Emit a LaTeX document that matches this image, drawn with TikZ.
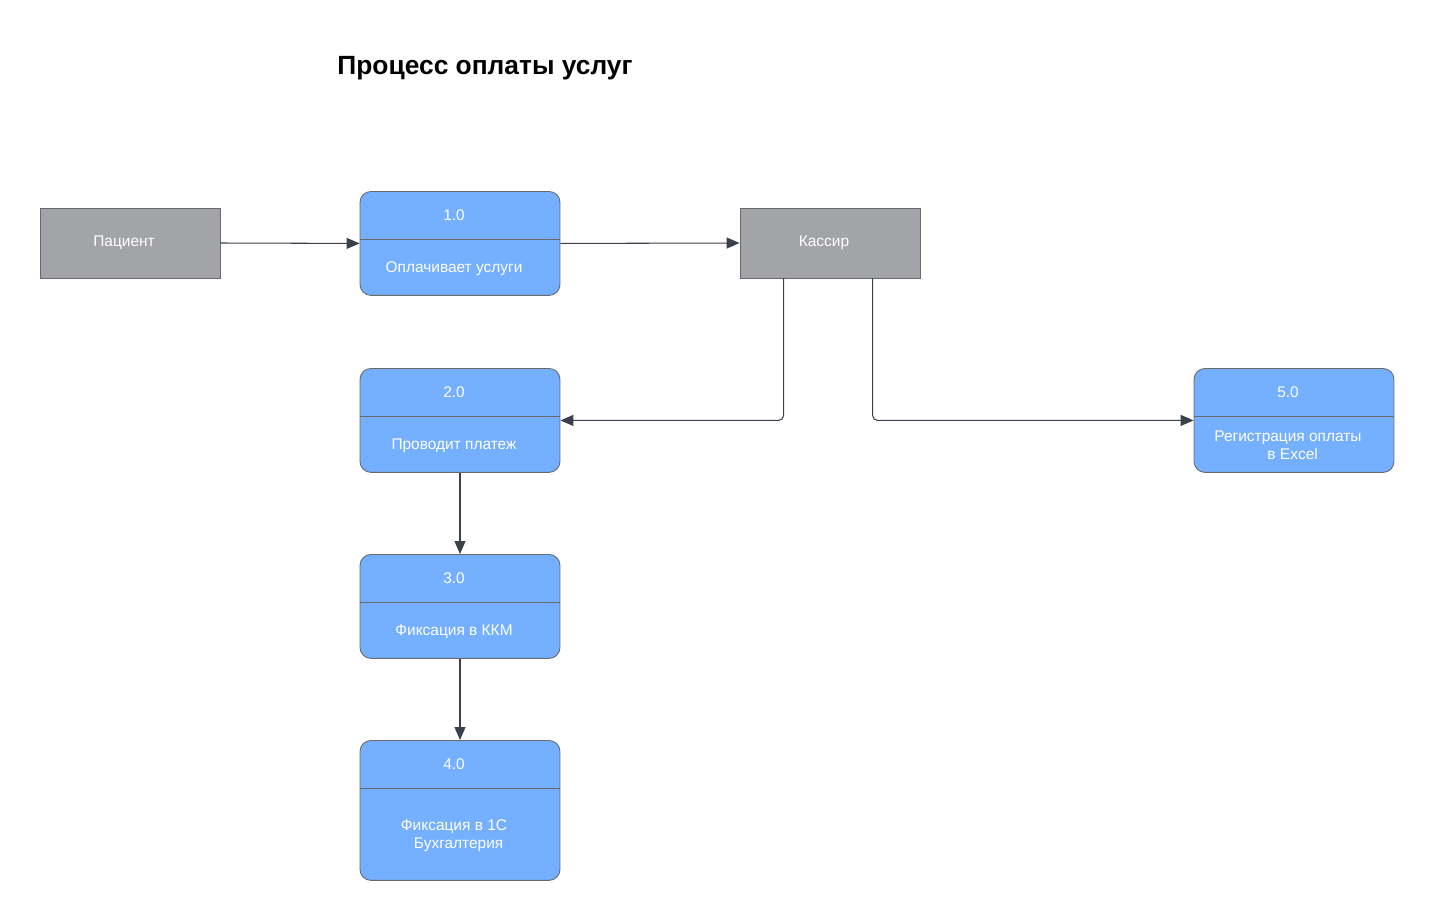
\documentclass[tikz,border=0pt]{standalone}
\usepackage{fontspec}
\setmainfont{Liberation Sans}
\usetikzlibrary{arrows.meta,calc}
\definecolor{cbox}{RGB}{116,176,255}
\definecolor{cgray}{RGB}{163,164,168}
\definecolor{cedge}{RGB}{105,105,110}
\definecolor{cline}{RGB}{58,65,75}
\tikzset{
  actorbox/.style={draw=cedge,fill=cgray,line width=0.5pt,
    minimum width=3.6cm,minimum height=1.4cm,inner sep=0pt},
  procbox/.style={draw=cedge,fill=cbox,line width=0.5pt,
    rounded corners=0.22cm,minimum width=4cm,inner sep=0pt},
  boxtext/.style={text=white,font=\fontsize{8.8}{10.2}\selectfont,align=center},
  flow/.style={cline,line width=0.6pt,rounded corners=0.1cm,
    -{Triangle[length=0.26cm,width=0.22cm]}}
}
% process box: name, x, top y, height (cm), number, text
\newcommand{\procnode}[6]{%
  \node[procbox,minimum height=#4cm,anchor=north] (#1) at (#2,#3) {};
  \draw[cedge,line width=0.5pt] ($(#1.north west)+(0,48)$) -- ($(#1.north east)+(0,48)$);
  \node[boxtext] (#1num) at ($(#1.north)+(-6,24)$) {#5};
  \node[boxtext] (#1txt) at ($(#1.north)!0.5!(#1.south)+(-6,25)$) {#6};}
\begin{document}
\begin{tikzpicture}[x=0.02cm,y=-0.02cm]
\useasboundingbox (0,0) rectangle (1434,920);

% =============================== title ================================
\node[font=\fontsize{15}{18}\selectfont\bfseries] (TITLE) at (485,68) {Процесс оплаты услуг};

% =============================== actors ===============================
\node[actorbox] (PAC) at (130,243) {};
\node[boxtext] (PACtxt) at (124,243) {Пациент};
\node[actorbox] (KAS) at (830,243) {};
\node[boxtext] (KAStxt) at (824,243) {Кассир};

% ============================== processes =============================
\procnode{P1}{460}{191}{2.08}{1.0}{Оплачивает услуги}
\procnode{P2}{460}{368}{2.08}{2.0}{Проводит платеж}
\procnode{P3}{460}{554}{2.08}{3.0}{Фиксация в ККМ}
\procnode{P4}{460}{740}{2.8}{4.0}{Фиксация в 1С\\\hspace*{0.6em}Бухгалтерия}
\procnode{P5}{1294}{368}{2.08}{5.0}{Регистрация оплаты\\\hspace*{0.6em}в Excel}

% ================================ flows ===============================
\draw[flow] (PAC.east) -- (P1.west);
\draw[flow] (P1.east) -- (KAS.west);
\draw[flow] ($(KAS.south west)+(44,0)$) |- (P2.east);
\draw[flow] ($(KAS.south west)+(133,0)$) |- (P5.west);
\draw[flow] (P2.south) -- (P3.north);
\draw[flow] (P3.south) -- (P4.north);

\end{tikzpicture}
\end{document}
